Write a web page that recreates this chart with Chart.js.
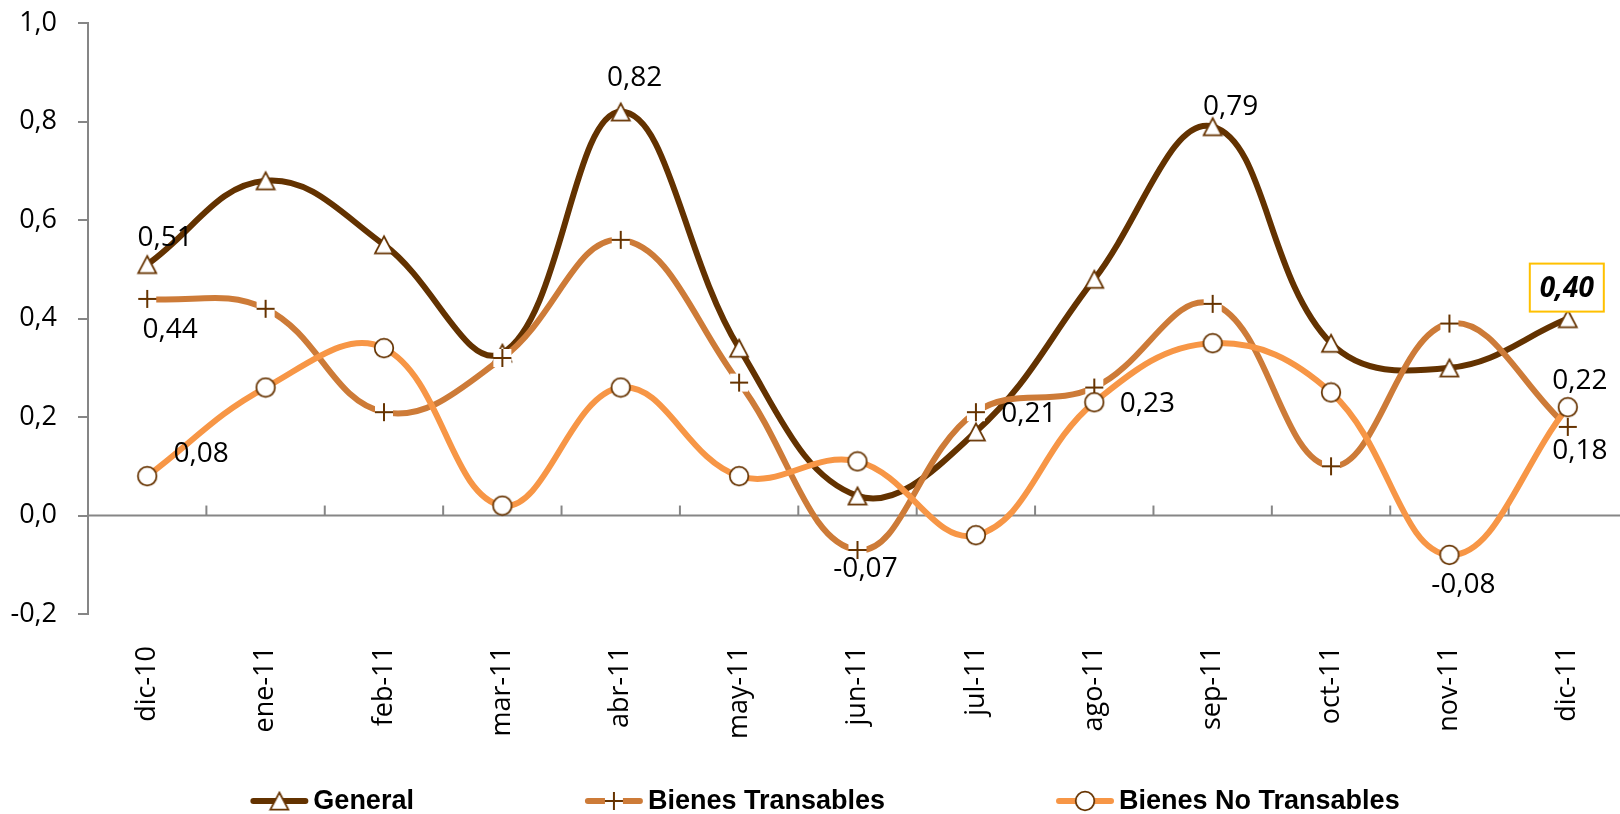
<!DOCTYPE html>
<html>
<head>
<meta charset="utf-8">
<script src="https://cdn.jsdelivr.net/npm/chart.js@4.4.1/dist/chart.umd.min.js"></script>
<style>
html,body{margin:0;padding:0;background:#fff;overflow:hidden;width:1620px;height:814px}
#wrap{position:absolute;left:0;top:-14px;width:1643px;height:828px}
</style>
</head>
<body>
<div id="wrap"><canvas id="c" width="1643" height="828"></canvas></div>
<script>
// ---- data ----
const categories = ['dic-10','ene-11','feb-11','mar-11','abr-11','may-11','jun-11','jul-11','ago-11','sep-11','oct-11','nov-11','dic-11'];
const seriesNames = ['General','Bienes Transables','Bienes No Transables'];
const generalValues      = [0.51, 0.68, 0.55, 0.33, 0.82, 0.34, 0.04, 0.17, 0.48, 0.79, 0.35, 0.30, 0.40];
const transablesValues   = [0.44, 0.42, 0.21, 0.32, 0.56, 0.27, -0.07, 0.21, 0.26, 0.43, 0.10, 0.39, 0.18];
const noTransablesValues = [0.08, 0.26, 0.34, 0.02, 0.26, 0.08, 0.11, -0.04, 0.23, 0.35, 0.25, -0.08, 0.22];
const yTickValues = [-0.2, 0.0, 0.2, 0.4, 0.6, 0.8, 1.0];

// labelled points: dataset index, point index, offset from point
const labelSpecs = [
  {ds:0, i:0,  dx:18, dy:-26},
  {ds:0, i:4,  dx:14, dy:-34},
  {ds:0, i:9,  dx:18, dy:-20},
  {ds:0, i:12, dx:-1, dy:-30, emphasis:true},
  {ds:1, i:0,  dx:23, dy:31},
  {ds:1, i:6,  dx:8,  dy:19},
  {ds:1, i:7,  dx:53, dy:2},
  {ds:1, i:12, dx:12, dy:24},
  {ds:2, i:0,  dx:54, dy:-22},
  {ds:2, i:8,  dx:53, dy:2},
  {ds:2, i:11, dx:14, dy:30},
  {ds:2, i:12, dx:12, dy:-26}
];

// ---- styles ----
const SHIFT = 14; // canvas is placed 14px above the page top
const COL_GENERAL = '#633200';
const COL_TRANS = '#CD7B38';
const COL_NOTRANS = '#F79646';
const MARKER_EDGE = '#663300';
const AXIS_COL = '#868686';
const FONT = '"Open Sans", "Liberation Sans", sans-serif';

function makeMarker(kind){
  const c = document.createElement('canvas');
  c.width = 22; c.height = 22;
  const g = c.getContext('2d');
  g.fillStyle = '#fff';
  g.strokeStyle = MARKER_EDGE;
  g.lineWidth = 1.75;
  if (kind === 'triangle'){
    g.beginPath(); g.moveTo(11, 2.5); g.lineTo(20, 19.5); g.lineTo(2, 19.5); g.closePath();
    g.fill(); g.stroke();
  } else if (kind === 'circle'){
    g.beginPath(); g.arc(11, 11, 9.3, 0, Math.PI*2); g.fill(); g.stroke();
  } else {
    g.fillRect(2, 2, 18, 18);
    g.lineWidth = 2;
    g.beginPath(); g.moveTo(2, 11); g.lineTo(20, 11); g.moveTo(11, 2); g.lineTo(11, 20); g.stroke();
  }
  return c;
}
const triImg = makeMarker('triangle');
const crossImg = makeMarker('cross');
const circImg = makeMarker('circle');

const fmt = v => v.toFixed(2).replace('.', ',');

const bgPlugin = {
  id: 'bg',
  beforeDraw(chart){
    const ctx = chart.ctx;
    ctx.save(); ctx.fillStyle = '#fff'; ctx.fillRect(0, 0, chart.width, chart.height); ctx.restore();
  }
};

const zeroAxisPlugin = {
  id: 'zeroAxis',
  beforeDatasetsDraw(chart){
    const {ctx, chartArea, scales} = chart;
    const y0 = scales.y.getPixelForValue(0);
    ctx.save();
    ctx.strokeStyle = AXIS_COL; ctx.lineWidth = 2;
    ctx.beginPath(); ctx.moveTo(chartArea.left, y0); ctx.lineTo(chartArea.right, y0); ctx.stroke();
    const n = categories.length;
    for (let i = 1; i <= n; i++){
      const xb = i < n ? (scales.x.getPixelForValue(i-1) + scales.x.getPixelForValue(i))/2 : chartArea.right;
      ctx.beginPath(); ctx.moveTo(xb, y0); ctx.lineTo(xb, y0 - 10); ctx.stroke();
    }
    ctx.restore();
  }
};

const dataLabelPlugin = {
  id: 'dataLabels',
  afterDatasetsDraw(chart){
    const ctx = chart.ctx;
    ctx.save();
    ctx.textAlign = 'center'; ctx.textBaseline = 'middle';
    labelSpecs.forEach(s => {
      const pt = chart.getDatasetMeta(s.ds).data[s.i];
      const v = chart.data.datasets[s.ds].data[s.i];
      const x = pt.x + s.dx, y = pt.y + s.dy;
      const txt = fmt(v);
      if (s.emphasis){
        ctx.font = 'italic bold 28px ' + FONT;
        ctx.strokeStyle = '#FFC000'; ctx.lineWidth = 2;
        ctx.fillStyle = '#fff';
        ctx.fillRect(x - 37, y - 25, 74, 48);
        ctx.strokeRect(x - 37, y - 25, 74, 48);
      } else {
        ctx.font = '28px ' + FONT;
      }
      ctx.fillStyle = '#000';
      ctx.fillText(txt, x, y);
    });
    ctx.restore();
  }
};

const legendPlugin = {
  id: 'customLegend',
  afterDraw(chart){
    const ctx = chart.ctx;
    ctx.save();
    ctx.font = 'bold 27px "Liberation Sans", Arial, sans-serif';
    const items = chart.data.datasets.map(ds => ({text: ds.label, color: ds.borderColor, marker: ds.pointStyle, w: ctx.measureText(ds.label).width}));
    const lineW = 58, textGap = 5, itemGap = 171;
    const total = items.reduce((s, it) => s + lineW + textGap + it.w, 0) + itemGap * (items.length - 1);
    let x = 825 - total / 2;
    const yLine = 801 + SHIFT, yBase = 809 + SHIFT;
    items.forEach(it => {
      ctx.strokeStyle = it.color; ctx.lineWidth = 6; ctx.lineCap = 'round';
      ctx.beginPath(); ctx.moveTo(x + 3, yLine); ctx.lineTo(x + lineW - 3, yLine); ctx.stroke();
      ctx.drawImage(it.marker, x + lineW/2 - it.marker.width/2, yLine - it.marker.height/2);
      ctx.fillStyle = '#000'; ctx.textAlign = 'left'; ctx.textBaseline = 'alphabetic';
      ctx.fillText(it.text, x + lineW + textGap, yBase);
      x += lineW + textGap + it.w + itemGap;
    });
    ctx.restore();
  }
};

const mkDs = (label, data, color, img, order) => ({
  label, data,
  borderColor: color, backgroundColor: color,
  borderWidth: 6, tension: 0.4, fill: false,
  pointStyle: img, pointRadius: 10, pointHoverRadius: 10,
  order
});

new Chart(document.getElementById('c'), {
  type: 'line',
  data: {
    labels: categories,
    datasets: [
      mkDs(seriesNames[0], generalValues, COL_GENERAL, triImg, 3),
      mkDs(seriesNames[1], transablesValues, COL_TRANS, crossImg, 2),
      mkDs(seriesNames[2], noTransablesValues, COL_NOTRANS, circImg, 1)
    ]
  },
  options: {
    responsive: false,
    devicePixelRatio: 1,
    animation: false,
    events: [],
    layout: {padding: {top: 9, right: 0, left: 0, bottom: 0}},
    plugins: {legend: {display: false}, tooltip: {enabled: false}},
    scales: {
      x: {
        offset: true,
        grid: {display: false, drawTicks: false},
        border: {display: false},
        ticks: {
          autoSkip: false, minRotation: 90, maxRotation: 90, padding: 32,
          color: '#000', font: {family: FONT, size: 27}
        },
        afterFit(s){ s.height = 200; }
      },
      y: {
        min: -0.2, max: 1.0,
        afterBuildTicks(s){ s.ticks = yTickValues.map(v => ({value: v})); },
        grid: {drawOnChartArea: false, drawTicks: true, tickLength: 10, color: AXIS_COL, lineWidth: 2},
        border: {display: true, color: AXIS_COL, width: 2},
        ticks: {
          padding: 21, color: '#000', font: {family: FONT, size: 27},
          callback: v => Number(v).toFixed(1).replace('.', ',')
        },
        afterFit(s){ s.width = 88; }
      }
    }
  },
  plugins: [bgPlugin, zeroAxisPlugin, dataLabelPlugin, legendPlugin]
});
</script>
</body>
</html>
